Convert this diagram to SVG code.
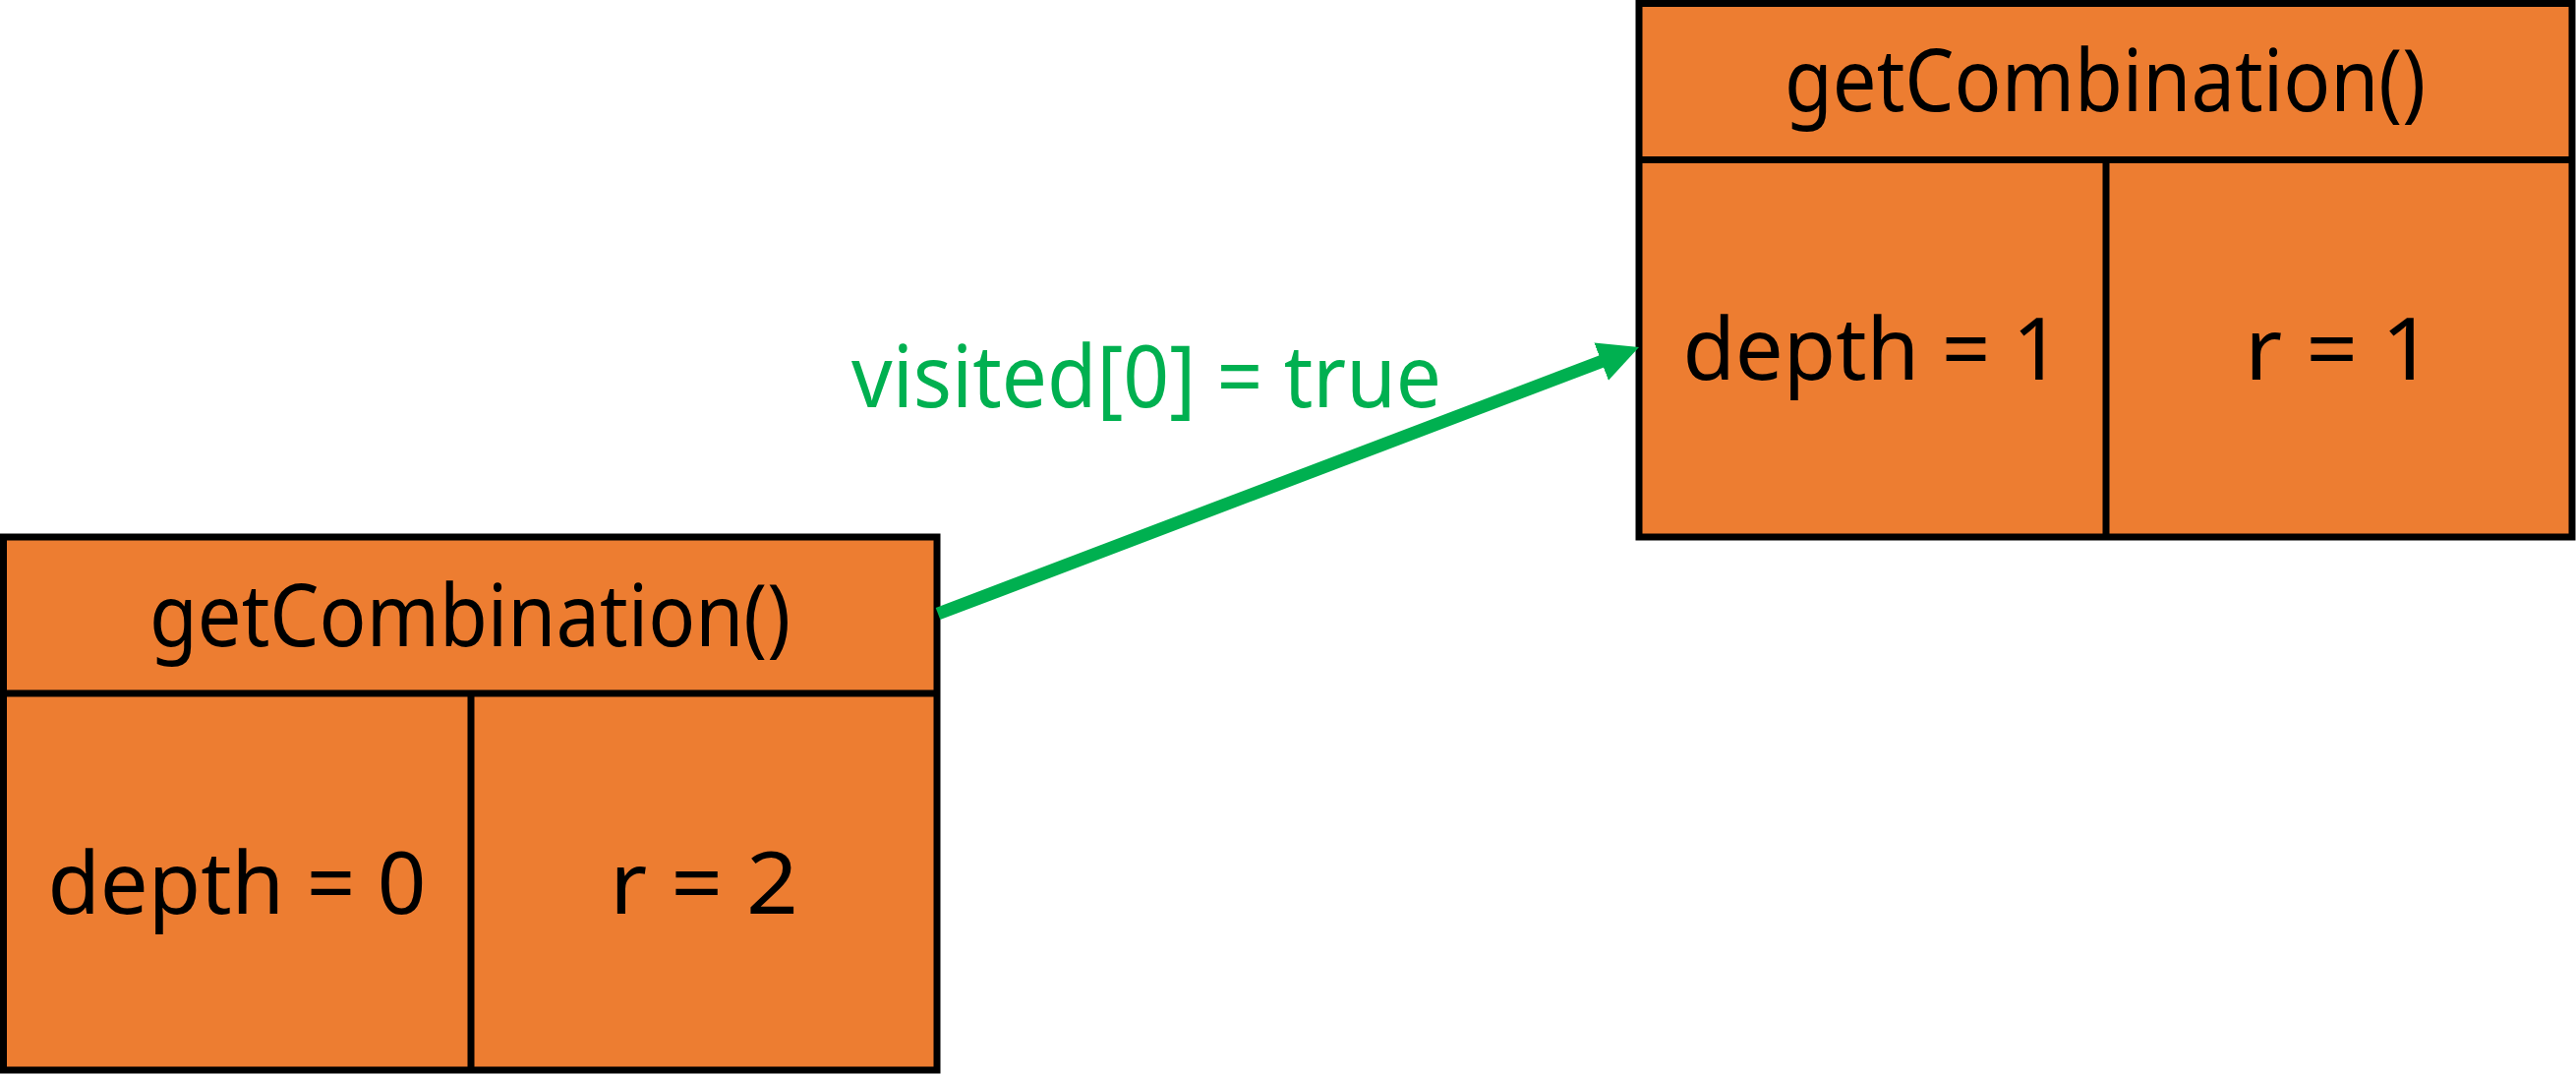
<svg xmlns="http://www.w3.org/2000/svg" width="2620" height="1093" viewBox="0 0 2620 1093">
<style>
.box{fill:#ED7D31;stroke:#000;stroke-width:7}
.div{stroke:#000;stroke-width:7;fill:none}
.t{font-family:"Noto Sans","Open Sans",sans-serif;font-size:88px;fill:#000;text-anchor:middle}
.lbl{font-family:"Noto Sans","Open Sans",sans-serif;font-size:88px;fill:#00B050;text-anchor:middle}
.conn{stroke:#00B050;stroke-width:13;fill:none}
</style>
<defs>
<marker id="arr" markerUnits="userSpaceOnUse" markerWidth="42" markerHeight="42" refX="16" refY="20.5" orient="auto" viewBox="0 0 42 42">
<path d="M0,0 L41,20.5 L0,41 z" fill="#00B050"/>
</marker>
</defs>
<g id="node-depth0">
<rect class="box" x="3.5" y="546" width="949.5" height="542"/>
<line class="div" x1="3.5" y1="705" x2="953" y2="705"/>
<line class="div" x1="479" y1="705" x2="479" y2="1088"/>
<text class="t" x="478" y="657" textLength="652" lengthAdjust="spacingAndGlyphs">getCombination()</text>
<text class="t" x="241" y="929" textLength="385" lengthAdjust="spacingAndGlyphs">depth = 0</text>
<text class="t" x="716" y="929" textLength="192" lengthAdjust="spacingAndGlyphs">r = 2</text>
</g>
<g id="node-depth1">
<rect class="box" x="1667" y="3.5" width="949" height="542.5"/>
<line class="div" x1="1667" y1="162.5" x2="2616" y2="162.5"/>
<line class="div" x1="2142" y1="162.5" x2="2142" y2="546"/>
<text class="t" x="2141" y="113" textLength="652" lengthAdjust="spacingAndGlyphs">getCombination()</text>
<text class="t" x="1904" y="386" textLength="385" lengthAdjust="spacingAndGlyphs">depth = 1</text>
<text class="t" x="2379" y="386" textLength="192" lengthAdjust="spacingAndGlyphs">r = 1</text>
</g>
<g id="connectors">
<line class="conn" x1="954" y1="624" x2="1643.6" y2="361.9" marker-end="url(#arr)"/>
<text class="lbl" x="1166" y="414" textLength="600" lengthAdjust="spacingAndGlyphs">visited[0] = true</text>
</g>
</svg>
